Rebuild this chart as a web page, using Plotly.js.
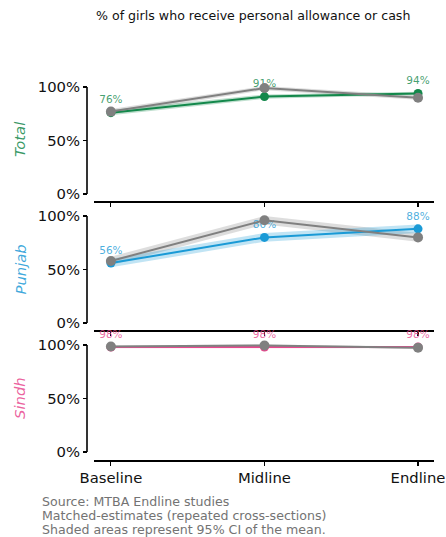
<!DOCTYPE html>
<html>
<head>
<meta charset="utf-8">
<script src="https://cdn.plot.ly/plotly-3.0.1.min.js"></script>
<style>
  html, body { margin: 0; padding: 0; background: #fff; }
  #chart { width: 446px; height: 537px; }
</style>
</head>
<body>
<div id="chart"></div>
<script>
// Survey rounds on the shared x axis
const waves = ['Baseline', 'Midline', 'Endline'];
const regions = ['Total', 'Punjab', 'Sindh'];
const regionColors = ['#13884b', '#1a9ad6', '#e8478e'];
const pctTicks = [0, 0.5, 1];

// Share of girls receiving allowance / cash, with 95% CI bounds
const totalGirls    = [0.76, 0.91, 0.94];
const totalGirlsLo  = [0.735, 0.89, 0.925];
const totalGirlsHi  = [0.785, 0.93, 0.955];
const totalRef      = [0.77, 0.99, 0.90];
const totalRefLo    = [0.745, 0.97, 0.88];
const totalRefHi    = [0.795, 1.01, 0.92];

const punjabGirls   = [0.56, 0.80, 0.88];
const punjabGirlsLo = [0.52, 0.76, 0.84];
const punjabGirlsHi = [0.60, 0.84, 0.92];
const punjabRef     = [0.58, 0.96, 0.80];
const punjabRefLo   = [0.54, 0.92, 0.76];
const punjabRefHi   = [0.62, 1.00, 0.84];

const sindhGirls    = [0.98, 0.98, 0.98];
const sindhGirlsLo  = [0.97, 0.97, 0.97];
const sindhGirlsHi  = [0.99, 0.99, 0.99];
const sindhRef      = [0.985, 0.995, 0.975];
const sindhRefLo    = [0.975, 0.985, 0.965];
const sindhRefHi    = [0.995, 1.005, 0.985];

const panels = [
  {girls: totalGirls,  lo: totalGirlsLo,  hi: totalGirlsHi,  ref: totalRef,  rlo: totalRefLo,  rhi: totalRefHi},
  {girls: punjabGirls, lo: punjabGirlsLo, hi: punjabGirlsHi, ref: punjabRef, rlo: punjabRefLo, rhi: punjabRefHi},
  {girls: sindhGirls,  lo: sindhGirlsLo,  hi: sindhGirlsHi,  ref: sindhRef,  rlo: sindhRefLo,  rhi: sindhRefHi}
];

const W = 446, H = 537;
const px = v => v / W;          // pixel -> paper x
const py = v => 1 - v / H;      // pixel -> paper y

function hexA(hex, a) {
  const n = parseInt(hex.slice(1), 16);
  return `rgba(${(n >> 16) & 255},${(n >> 8) & 255},${n & 255},${a})`;
}

function band(lo, hi, fillcolor, xa, ya) {
  return {
    x: waves.concat(waves.slice().reverse()),
    y: hi.concat(lo.slice().reverse()),
    xaxis: xa, yaxis: ya,
    type: 'scatter', mode: 'lines', fill: 'toself',
    fillcolor: fillcolor, line: {width: 0}, hoverinfo: 'skip'
  };
}

const traces = [];
panels.forEach((p, i) => {
  const xa = i === 0 ? 'x' : 'x' + (i + 1);
  const ya = i === 0 ? 'y' : 'y' + (i + 1);
  const c = regionColors[i];
  traces.push(band(p.rlo, p.rhi, 'rgba(128,128,128,0.27)', xa, ya));
  traces.push(band(p.lo, p.hi, hexA(c, 0.27), xa, ya));
  traces.push({
    x: waves, y: p.girls, xaxis: xa, yaxis: ya,
    type: 'scatter', mode: 'lines+markers+text',
    line: {color: c, width: 2}, marker: {color: c, size: 9},
    text: p.girls.map(v => Math.round(v * 100) + '%'),
    textposition: 'top center',
    textfont: {family: 'DejaVu Sans', size: 10.5, color: hexA(c, 0.8)},
    cliponaxis: false
  });
  traces.push({
    x: waves, y: p.ref, xaxis: xa, yaxis: ya,
    type: 'scatter', mode: 'lines+markers',
    line: {color: '#808080', width: 2}, marker: {color: '#808080', size: 10}
  });
});

// Panel geometry in pixels: [bottom, top] of each plotting strip
const strips = [[201, 72], [330, 201], [460, 330]];
const yRanges = [[-0.065, 1.14], [-0.065, 1.14], [-0.075, 1.14]];
const spineX = px(87);

const layout = {
  width: W, height: H,
  margin: {l: 0, r: 0, t: 0, b: 0},
  paper_bgcolor: '#fff', plot_bgcolor: '#fff',
  showlegend: false,
  font: {family: 'DejaVu Sans', size: 14.8, color: '#111'},
  shapes: [], annotations: []
};

strips.forEach((s, i) => {
  const k = i === 0 ? '' : String(i + 1);
  layout['xaxis' + k] = {
    domain: [px(94), px(434)],
    anchor: 'y' + k,
    type: 'category',
    range: [-0.11, 2.104],
    showline: true, linecolor: '#000', linewidth: 1.6,
    ticks: 'outside', ticklen: 4, tickwidth: 1.2, tickcolor: '#000',
    showticklabels: i === 2,
    tickfont: {size: 14.8, color: '#111'},
    showgrid: false, zeroline: false, fixedrange: true
  };
  layout['yaxis' + k] = {
    domain: [py(s[0]), py(s[1])],
    anchor: 'free', position: spineX,
    range: yRanges[i],
    tickvals: pctTicks, tickformat: '.0%',
    ticks: 'outside', ticklen: 4, tickwidth: 1.2, tickcolor: '#000',
    tickfont: {size: 14.8, color: '#111'},
    showline: false, showgrid: false, zeroline: false, fixedrange: true
  };
  // left spine trimmed to the 0–100% span
  layout.shapes.push({
    type: 'line', xref: 'paper', yref: 'y' + k,
    x0: spineX, x1: spineX, y0: 0, y1: 1,
    line: {color: '#000', width: 1.6}
  });
});

// Region names as rotated italic labels
const regionCenters = [139.5, 270, 398.5];
regions.forEach((r, i) => {
  layout.annotations.push({
    text: '<i>' + r + '</i>', xref: 'paper', yref: 'paper',
    x: px(19.5), y: py(regionCenters[i]), textangle: -90,
    showarrow: false, xanchor: 'center', yanchor: 'middle',
    font: {family: 'DejaVu Sans', size: 14.8, color: hexA(regionColors[i], 0.85)}
  });
});

layout.annotations.push({
  text: '% of girls who receive personal allowance or cash',
  xref: 'paper', yref: 'paper', x: px(253), y: py(16),
  showarrow: false, xanchor: 'center', yanchor: 'middle',
  font: {family: 'DejaVu Sans', size: 12.6, color: '#111'}
});

const notes = [
  'Source: MTBA Endline studies',
  'Matched-estimates (repeated cross-sections)',
  'Shaded areas represent 95% CI of the mean.'
];
notes.forEach((t, i) => {
  layout.annotations.push({
    text: t, xref: 'paper', yref: 'paper',
    x: px(40), y: py(501 + i * 14.3),
    showarrow: false, xanchor: 'left', yanchor: 'middle',
    font: {family: 'DejaVu Sans', size: 12.6, color: '#737373'}
  });
});

Plotly.newPlot('chart', traces, layout, {displayModeBar: false, staticPlot: true});
</script>
</body>
</html>
